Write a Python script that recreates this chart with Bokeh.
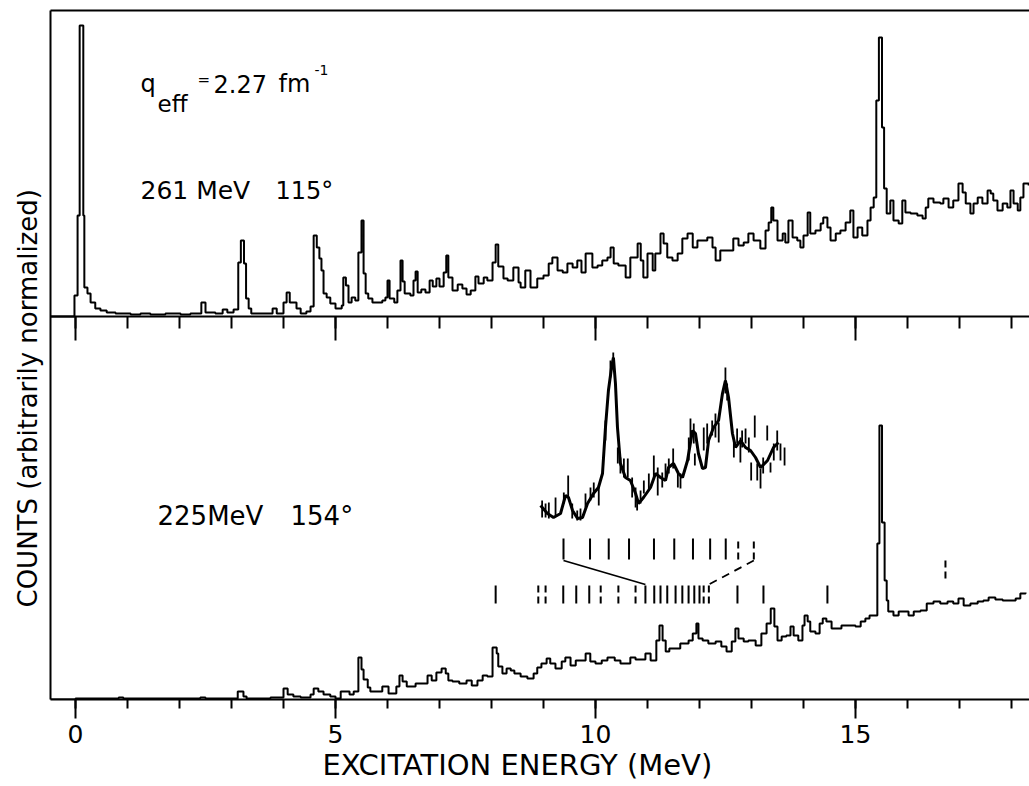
from math import pi
from bokeh.plotting import figure
from bokeh.models import Range1d, LinearAxis, FixedTicker, Label, Title
from bokeh.embed import file_html
from bokeh.resources import INLINE

# ---------------- data ----------------
tick_values = [0, 5, 10, 15]
tick_labels = ["0", "5", "10", "15"]
minor_tick_values = list(range(0, 19))

# upper spectrum: 261 MeV, 115 deg  (bin start energy in MeV, counts arb.)
top_e = [-0.48, -0.02, 0.04, 0.08, 0.15, 0.17, 0.23, 0.29, 0.38, 0.48,
         0.60, 0.77, 1.06, 1.25, 1.44, 1.73, 2.02, 2.21, 2.42, 2.50,
         2.69, 2.83, 2.92, 3.04, 3.13, 3.18, 3.24, 3.28, 3.33, 3.38,
         3.79, 3.87, 4.00, 4.06, 4.12, 4.25, 4.33, 4.44, 4.52, 4.58,
         4.64, 4.69, 4.73, 4.77, 4.83, 4.90, 5.00, 5.12, 5.15, 5.20,
         5.25, 5.31, 5.38, 5.44, 5.50, 5.54, 5.58, 5.63, 5.71, 5.90,
         5.96, 6.00, 6.04, 6.13, 6.19, 6.25, 6.29, 6.33, 6.44, 6.50,
         6.54, 6.58, 6.65, 6.73, 6.81, 6.87, 6.94, 7.00, 7.08, 7.13,
         7.17, 7.25, 7.35, 7.44, 7.52, 7.60, 7.69, 7.75, 7.85, 7.92,
         8.02, 8.08, 8.13, 8.23, 8.31, 8.42, 8.52, 8.56, 8.65, 8.75,
         8.88, 9.00, 9.10, 9.17, 9.27, 9.37, 9.46, 9.56, 9.65, 9.73,
         9.81, 9.94, 10.04, 10.13, 10.23, 10.29, 10.35, 10.44, 10.58, 10.67,
         10.81, 10.87, 10.92, 11.00, 11.10, 11.15, 11.25, 11.31, 11.38, 11.48,
         11.58, 11.67, 11.77, 11.87, 11.96, 12.15, 12.25, 12.31, 12.40, 12.65,
         12.75, 12.85, 12.94, 13.04, 13.17, 13.27, 13.33, 13.38, 13.42, 13.50,
         13.60, 13.65, 13.71, 13.79, 13.88, 13.94, 14.00, 14.08, 14.13, 14.23,
         14.33, 14.38, 14.46, 14.52, 14.62, 14.71, 14.81, 14.90, 14.96, 15.04,
         15.13, 15.23, 15.29, 15.35, 15.40, 15.45, 15.51, 15.55, 15.60, 15.67,
         15.73, 15.83, 15.90, 15.96, 16.06, 16.19, 16.29, 16.35, 16.40, 16.50,
         16.63, 16.69, 16.79, 16.88, 16.98, 17.06, 17.12, 17.21, 17.27, 17.35,
         17.44, 17.54, 17.60, 17.65, 17.73, 17.83, 17.92, 17.98, 18.04, 18.12,
         18.17, 18.23, 18.33]
top_counts = [0, 21, 101, 291, 101, 29, 23, 14, 8, 6,
              4, 3, 2, 3, 2, 3, 2, 3, 14, 4,
              3, 7, 4, 7, 54, 76, 53, 18, 8, 3,
              8, 3, 14, 24, 14, 8, 3, 5, 10, 81,
              69, 58, 46, 23, 19, 13, 8, 11, 39, 31,
              14, 19, 16, 64, 96, 43, 23, 18, 14, 16,
              19, 36, 18, 14, 26, 56, 35, 23, 21, 36,
              45, 24, 27, 24, 36, 30, 38, 30, 44, 61,
              39, 26, 32, 28, 22, 26, 40, 33, 39, 36,
              54, 72, 50, 38, 36, 49, 34, 29, 46, 29,
              38, 41, 53, 59, 46, 44, 53, 49, 56, 44,
              63, 49, 51, 56, 59, 69, 53, 51, 39, 59,
              73, 56, 39, 63, 46, 63, 83, 73, 59, 56,
              63, 78, 83, 69, 76, 79, 69, 56, 66, 78,
              71, 74, 83, 76, 68, 86, 94, 109, 96, 76,
              83, 74, 96, 79, 76, 69, 81, 104, 83, 86,
              93, 99, 89, 76, 83, 86, 94, 106, 79, 89,
              81, 96, 109, 119, 216, 279, 189, 128, 103, 116,
              96, 93, 116, 104, 103, 101, 98, 109, 118, 114,
              113, 118, 109, 116, 133, 124, 113, 103, 113, 119,
              113, 126, 123, 116, 106, 113, 109, 126, 113, 106,
              119, 133, 131]

# lower spectrum: 225 MeV, 154 deg
bot_e = [-0.48, 0.00, 0.83, 0.92, 2.40, 2.50, 3.12, 3.23, 3.29, 3.75,
         4.00, 4.08, 4.19, 4.33, 4.52, 4.58, 4.67, 4.77, 4.90, 5.00,
         5.10, 5.27, 5.35, 5.44, 5.50, 5.54, 5.62, 5.67, 5.90, 6.02,
         6.17, 6.23, 6.29, 6.37, 6.54, 6.77, 6.85, 6.94, 7.04, 7.12,
         7.17, 7.25, 7.38, 7.52, 7.62, 7.73, 7.83, 7.92, 8.02, 8.10,
         8.13, 8.21, 8.29, 8.37, 8.44, 8.56, 8.69, 8.81, 8.88, 8.96,
         9.06, 9.13, 9.23, 9.35, 9.42, 9.52, 9.62, 9.81, 9.90, 10.00,
         10.12, 10.23, 10.37, 10.48, 10.67, 10.77, 10.96, 11.06, 11.17, 11.23,
         11.29, 11.35, 11.42, 11.63, 11.79, 11.87, 11.94, 11.98, 12.06, 12.17,
         12.31, 12.42, 12.52, 12.62, 12.69, 12.75, 12.85, 12.94, 13.08, 13.19,
         13.29, 13.37, 13.44, 13.50, 13.58, 13.67, 13.75, 13.81, 13.90, 13.98,
         14.02, 14.08, 14.13, 14.23, 14.31, 14.37, 14.44, 14.54, 14.73, 15.00,
         15.10, 15.19, 15.27, 15.42, 15.46, 15.51, 15.56, 15.60, 15.63, 15.73,
         15.83, 16.02, 16.12, 16.25, 16.37, 16.50, 16.63, 16.77, 16.88, 16.98,
         17.08, 17.21, 17.35, 17.46, 17.56, 17.69, 17.83, 18.08, 18.17, 18.27]
bot_counts = [0, 1, 2, 1, 2, 1, 8, 3, 1, 2,
              11, 5, 3, 2, 5, 11, 8, 5, 3, 1,
              8, 5, 8, 42, 30, 20, 12, 8, 13, 6,
              13, 24, 18, 13, 16, 24, 19, 27, 31, 26,
              19, 18, 16, 19, 14, 19, 24, 23, 52, 46,
              33, 26, 31, 29, 26, 23, 21, 26, 32, 36,
              41, 36, 31, 38, 42, 34, 39, 46, 38, 36,
              39, 42, 39, 36, 42, 40, 46, 39, 59, 74,
              59, 48, 51, 56, 59, 66, 76, 61, 59, 56,
              58, 53, 48, 58, 71, 61, 58, 59, 54, 66,
              76, 91, 73, 59, 63, 64, 73, 64, 59, 74,
              84, 78, 68, 66, 76, 81, 78, 71, 74, 73,
              78, 81, 84, 156, 274, 177, 119, 99, 88, 84,
              88, 84, 88, 89, 96, 98, 96, 98, 96, 101,
              94, 96, 98, 99, 102, 100, 99, 101, 106, 107]

# expanded inset (10.8 - 12.4 MeV): fitted curve and data error bars
inset_fit_e = [10.813, 10.857, 10.896, 10.941, 10.973, 10.992, 11.018, 11.050, 11.082, 11.114,
               11.152, 11.184, 11.210, 11.229, 11.248, 11.268, 11.280, 11.293, 11.306, 11.325,
               11.357, 11.389, 11.422, 11.441, 11.473, 11.518, 11.550, 11.582, 11.614, 11.633,
               11.665, 11.697, 11.723, 11.755, 11.787, 11.806, 11.825, 11.851, 11.870, 11.890,
               11.922, 11.954, 11.979, 11.998, 12.018, 12.043, 12.063, 12.095, 12.127, 12.159,
               12.191, 12.223, 12.268, 12.306, 12.338]
inset_fit = [194, 186, 182, 186, 204, 202, 189, 181, 182, 196,
             206, 212, 226, 272, 309, 332, 342, 316, 272, 236,
             222, 219, 206, 196, 202, 212, 226, 222, 219, 232,
             236, 226, 222, 239, 269, 266, 246, 231, 232, 259,
             272, 279, 306, 319, 302, 266, 252, 259, 252, 249,
             242, 232, 239, 252, 257]
err_e = [10.823, 10.845, 10.866, 10.909, 10.962, 10.990, 11.016, 11.048, 11.069, 11.101,
         11.133, 11.154, 11.186, 11.229, 11.261, 11.279, 11.308, 11.325, 11.347, 11.372,
         11.400, 11.422, 11.432, 11.454, 11.475, 11.507, 11.539, 11.564, 11.593, 11.614,
         11.635, 11.663, 11.693, 11.710, 11.763, 11.774, 11.795, 11.802, 11.859, 11.881,
         11.913, 11.934, 11.955, 11.998, 12.009, 12.052, 12.073, 12.094, 12.105, 12.127,
         12.148, 12.163, 12.186, 12.202, 12.223, 12.240, 12.266, 12.287, 12.308, 12.330,
         12.351, 12.377]
err_lo = [182, 182, 181, 184, 196, 202, 181, 179, 179, 192,
          199, 202, 194, 259, 322, 332, 236, 226, 222, 222,
          202, 192, 189, 196, 206, 209, 222, 204, 212, 219,
          226, 231, 212, 211, 239, 259, 256, 234, 249, 256,
          264, 262, 257, 306, 299, 242, 256, 237, 252, 256,
          247, 219, 262, 219, 211, 226, 259, 227, 239, 249,
          239, 234]
err_hi = [199, 196, 197, 202, 207, 224, 196, 189, 191, 206,
          212, 217, 214, 279, 339, 347, 252, 242, 241, 241,
          222, 212, 202, 209, 219, 226, 244, 232, 227, 236,
          241, 251, 227, 226, 262, 281, 276, 246, 272, 276,
          279, 286, 277, 332, 316, 259, 271, 262, 269, 271,
          262, 237, 284, 236, 231, 242, 274, 237, 256, 269,
          256, 252]

# level markers (MeV)
inset_levels = [10.96, 11.13, 11.25, 11.38, 11.54, 11.67, 11.79, 11.90, 12.00, 12.08, 12.18]
inset_level_style = ["solid"] * 9 + ["dashed"] * 2
other_levels = [8.08, 8.90, 9.04, 9.38, 9.63, 9.88, 10.10, 10.44, 10.77, 12.73, 13.23, 14.46]
other_level_style = ["solid", "dashed", "dashed", "solid", "solid", "solid",
                     "dashed", "dashed", "dashed", "solid", "solid", "solid"]
high_level = [16.73]

# ---------------- figure ----------------
FONT = "DejaVu Sans"
X0, X1 = -0.4808, 18.3462
IX0, IX1 = 7.6715, 13.9472

p = figure(width=1029, height=786, x_range=Range1d(X0, X1), y_range=Range1d(0, 689),
           output_backend="svg", toolbar_location=None,
           min_border_left=50, min_border_right=0, min_border_top=10, min_border_bottom=87)
p.extra_y_ranges = {"top": Range1d(-383, 306)}
p.extra_x_ranges = {"inset": Range1d(IX0, IX1)}
p.grid.visible = False
p.outline_line_color = None
p.background_fill_color = "white"
p.border_fill_color = "white"

# bottom axis
xa = p.xaxis[0]
xa.ticker = FixedTicker(ticks=tick_values, minor_ticks=minor_tick_values)
xa.major_label_overrides = {v: s for v, s in zip(tick_values, tick_labels)}
xa.major_tick_out = 19
xa.major_tick_in = 0
xa.minor_tick_out = 9
xa.minor_tick_in = 0
xa.axis_line_width = 2
xa.major_tick_line_width = 2
xa.minor_tick_line_width = 2
xa.major_label_text_font = FONT
xa.major_label_text_font_size = "25px"
xa.major_label_text_color = "black"
xa.major_label_standoff = 6

# left axis (line only)
ya = p.yaxis[0]
ya.ticker = FixedTicker(ticks=[])
ya.axis_line_width = 2
ya.major_tick_out = 0
ya.major_tick_in = 0
ya.minor_tick_out = 0
ya.minor_tick_in = 0
ya.major_label_text_font_size = "0px"
ya.major_label_standoff = 0

# top border (line only)
top_ax = LinearAxis(ticker=FixedTicker(ticks=[]), axis_line_width=2,
                    major_tick_out=0, major_tick_in=0, minor_tick_out=0, minor_tick_in=0,
                    major_label_text_font_size="0px", major_label_standoff=0)
p.add_layout(top_ax, "above")

# dividing line between the two spectra with inward ticks
mid_ax = LinearAxis(ticker=FixedTicker(ticks=tick_values, minor_ticks=minor_tick_values),
                    fixed_location=383, axis_line_width=2,
                    major_tick_out=0, major_tick_in=24, minor_tick_out=0, minor_tick_in=12,
                    major_tick_line_width=2, minor_tick_line_width=2,
                    major_label_text_font_size="0px", major_label_standoff=0,
                    major_label_overrides={v: "" for v in tick_values})
p.add_layout(mid_ax, "above")

# axis titles
p.add_layout(Title(text="EXCITATION ENERGY (MeV)", align="left", offset=272,
                   standoff=1, text_font=FONT, text_font_size="29px",
                   text_font_style="normal", text_color="black"), "below")
p.add_layout(Title(text="COUNTS (arbitrarily normalized)", align="left", offset=92,
                   standoff=15, text_font=FONT, text_font_size="26px",
                   text_font_style="normal", text_color="black"), "left")

# spectra
p.step(x=top_e, y=top_counts, mode="after", y_range_name="top", line_color="black", line_width=2)
p.step(x=bot_e, y=bot_counts, mode="after", line_color="black", line_width=2)

# inset
p.line(x=inset_fit_e, y=inset_fit, x_range_name="inset", line_color="black", line_width=3)
p.segment(x0=err_e, y0=err_lo, x1=err_e, y1=err_hi, x_range_name="inset",
          line_color="black", line_width=1.8)

# level markers
def split(levels, styles, kind):
    return [l for l, s in zip(levels, styles) if s == kind]

UP0, UP1 = 140, 161
LO0, LO1 = 96, 114
for kind, dash in (("solid", "solid"), ("dashed", "7 4")):
    up = split(inset_levels, inset_level_style, kind)
    p.segment(x0=up, y0=[UP0] * len(up), x1=up, y1=[UP1] * len(up), x_range_name="inset",
              line_color="black", line_width=2, line_dash=dash)
    lo = split(other_levels + inset_levels, other_level_style + inset_level_style, kind)
    p.segment(x0=lo, y0=[LO0] * len(lo), x1=lo, y1=[LO1] * len(lo),
              line_color="black", line_width=2, line_dash=dash)
p.segment(x0=high_level, y0=[121], x1=high_level, y1=[139],
          line_color="black", line_width=2, line_dash="7 4")

def to_main(e):
    return X0 + (e - IX0) * (X1 - X0) / (IX1 - IX0)

p.line(x=[to_main(inset_levels[0]), inset_levels[0]], y=[UP0 - 1, LO1 + 1],
       line_color="black", line_width=1.8)
p.line(x=[to_main(inset_levels[-1]), inset_levels[-1]], y=[UP0 - 1, LO1 + 1],
       line_color="black", line_width=1.8, line_dash="8 6")

# texts inside the panels
def lab(x, y, text, size):
    p.add_layout(Label(x=x, y=y, text=text, text_font=FONT, text_font_size=size,
                       text_color="black", text_baseline="alphabetic", text_align="left"))

lab(1.25, 616, "q", "24px")
lab(1.577, 596, "eff", "23px")
lab(2.346, 620, "=", "15px")
lab(2.654, 616, "2.27", "24px")
lab(3.904, 616, "fm", "24px")
lab(4.596, 630, "-1", "14px")
lab(1.25, 509, "261 MeV", "25px")
lab(3.846, 509, "115°", "24px")
lab(1.577, 184, "225MeV", "26px")
lab(4.135, 184, "154°", "26px")

open("out.html", "w").write(file_html(p, INLINE))
